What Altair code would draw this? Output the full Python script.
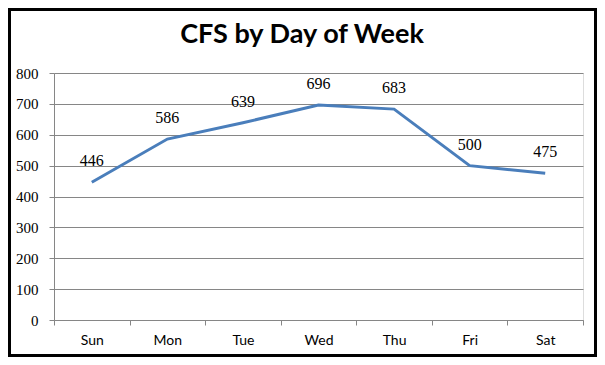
import altair as alt
import pandas as pd

days = ["Sun", "Mon", "Tue", "Wed", "Thu", "Fri", "Sat"]
cfs = [446, 586, 639, 696, 683, 500, 475]
y_ticks = [0, 100, 200, 300, 400, 500, 600, 700, 800]
title_text = "CFS by Day of Week"

df = pd.DataFrame({"day": days, "cfs": cfs})

W, H = 529, 247
PL, PT, PR, PB = 46, 65, 14, 37
FONT = "Lato"
SERIF = "Liberation Serif"

x = alt.X("day:N", sort=days, title=None,
          scale=alt.Scale(paddingInner=0, paddingOuter=0),
          axis=alt.Axis(tickBand="extent", labelAngle=0, labelFontSize=14,
                        labelFont=FONT, labelColor="black", labelPadding=8,
                        domainColor="#868686", tickColor="#868686", tickSize=5,
                        grid=False))
y = alt.Y("cfs:Q", title=None,
          scale=alt.Scale(domain=[0, 800], nice=False, zero=True),
          axis=alt.Axis(values=y_ticks, labelFontSize=15, labelFont=SERIF,
                        labelColor="black", labelPadding=11, tickSize=5,
                        labelOverlap=False,
                        domainColor="#868686", tickColor="#868686",
                        gridColor="#868686", gridWidth=1))

base = alt.Chart(df)
line = base.mark_line(color="#4A7EBB", strokeWidth=3).encode(x=x, y=y)
labels = base.mark_text(dy=-21, fontSize=16, font=SERIF, color="black").encode(
    x=x, y=y, text="cfs:Q")

one = pd.DataFrame({"t": [title_text]})
frame = alt.Chart(one).mark_rect(
    fill=None, stroke="black", strokeWidth=3).encode(
    x=alt.value(-PL + 1.5), x2=alt.value(W + PR - 1.5),
    y=alt.value(-PT + 1.5), y2=alt.value(H + PB - 1.5))
title = alt.Chart(one).mark_text(
    font=FONT, fontSize=27, fontWeight="bold", color="black",
    align="center", baseline="middle").encode(
    x=alt.value(248), y=alt.value(-38), text="t:N")

chart = alt.layer(line, labels, frame, title).properties(
    width=W, height=H,
    autosize=alt.AutoSizeParams(type="none"),
    padding={"left": PL, "top": PT, "right": PR, "bottom": PB},
).configure_view(stroke=None).configure(background="white")

chart.save("out.html", embed_options={"renderer": "svg", "actions": False})
